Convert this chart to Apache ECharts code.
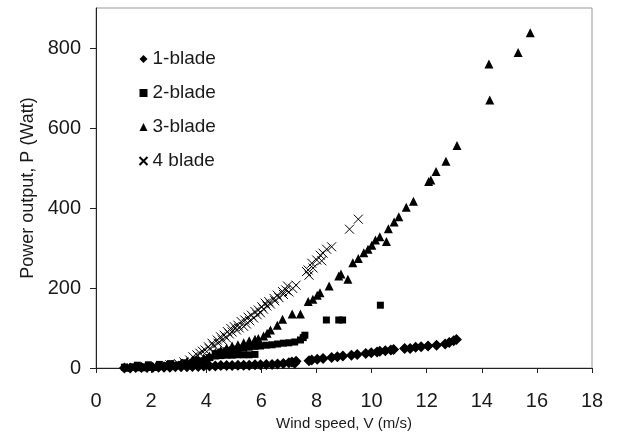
<!DOCTYPE html>
<html>
<head>
<meta charset="utf-8">
<script src="https://cdn.jsdelivr.net/npm/echarts@6/dist/echarts.min.js"></script>
<style>
  html, body { margin: 0; padding: 0; background: #fff; }
  #main { width: 632px; height: 436px; }
</style>
</head>
<body>
<div id="main"></div>
<script>
// wind speed (m/s), power (W) pairs
var blade1 = [
  [1.03,0],[1.24,0],[1.44,1],[1.65,1],[1.85,1],[2.06,1],[2.27,2],[2.47,2],[2.68,2],[2.88,3],[3.09,3],[3.3,3],
  [3.5,4],[3.71,4],[3.91,5],[4.12,5],[4.33,5],[4.53,6],[4.74,6],[4.94,6],[5.15,7],[5.36,7],[5.56,7],[5.77,8],
  [5.97,8],[6.18,9],[6.39,9],[6.59,10],[6.8,11],[7.0,13],[7.11,15],[7.21,12],[7.26,17],[7.73,18],[7.83,20],
  [8.03,22],[8.24,24],[8.55,26],[8.76,28],[8.96,30],[9.27,32],[9.48,34],[9.79,36],[9.99,38],[10.2,40],[10.3,42],
  [10.5,43],[10.7,45],[10.8,46],[11.2,49],[11.4,49],[11.6,52],[11.8,53],[12.05,55],[12.36,57],[12.67,60],
  [12.82,64],[12.98,68],[13.08,71]
];
var blade2 = [
  [1.03,2],[1.34,3],[1.65,3],[1.96,4],[2.27,5],[2.58,6],[2.88,7],[3.09,9],[3.3,10],[3.5,12],[3.71,15],[3.91,18],
  [1.5,7],[1.9,8],[2.3,9],[2.7,11],[3.2,13],[3.6,20],
  [4.02,22],[4.12,26],[4.33,30],[4.53,31],[4.74,32],[4.94,32],[5.15,33],[5.36,33],[5.56,33],[5.77,34],
  [4.33,36],[4.53,40],[4.74,43],[4.94,45],[5.15,48],[5.36,50],[5.56,52],[5.77,54],[5.97,55],[6.18,57],[6.39,58],
  [6.59,60],[6.8,62],[7.0,63],[7.21,65],[7.42,70],[7.52,76],[7.58,82],[8.36,120],[8.81,120],[8.95,120],[10.32,157]
];
var blade3 = [
  [1.13,2],[1.65,3],[2.06,4],[2.47,6],[2.78,9],[3.09,12],[3.3,16],[3.5,19],[3.71,22],[3.91,25],[4.12,30],[4.33,38],
  [4.53,44],[4.74,50],[4.94,55],[5.15,58],[5.36,63],[5.56,68],[5.77,72],[5.89,74],[6.08,80],[6.21,87],[6.33,95],
  [6.58,107],[6.77,122],[7.12,135],[7.42,135],[7.7,166],[7.87,172],[8.03,182],[8.13,188],[8.46,205],
  [8.81,230],[8.89,235],[9.14,222],[9.32,263],[9.52,274],[9.72,288],[9.87,297],[10.01,307],[10.14,320],
  [10.3,328],[10.54,316],[10.61,348],[10.82,365],[10.99,378],[11.26,402],[11.52,417],[12.07,466],[12.15,470],
  [12.34,491],[12.7,517],[13.1,556],[14.26,760],[14.29,670],[15.32,789],[15.76,838]
];
var blade4 = [
  [2.68,8],[2.99,11],[3.19,15],[3.4,20],[3.52,28],[3.66,33],[3.77,37],[3.86,42],[3.96,45],[4.08,53],[4.12,48],
  [4.21,62],[4.27,55],[4.4,70],[4.43,62],[4.52,78],[4.58,70],[4.65,82],[4.74,75],[4.77,91],[4.84,85],[4.89,99],
  [4.94,90],[5.02,103],[5.1,95],[5.15,107],[5.2,100],[5.27,116],[5.36,104],[5.4,120],[5.46,110],[5.52,127],
  [5.58,118],[5.64,132],[5.72,125],[5.77,141],[5.85,133],[5.89,145],[5.97,138],[6.02,153],[6.08,147],[6.14,162],
  [6.2,155],[6.27,166],[6.33,160],[6.46,174],[6.49,168],[6.58,182],[6.64,176],[6.77,191],[6.8,184],[6.89,195],
  [6.95,205],[7.0,190],[7.14,199],[7.26,207],[7.64,241],[7.7,245],[7.73,232],[7.83,262],[7.88,250],[8.01,270],
  [8.14,282],[8.19,268],[8.24,287],[8.37,297],[8.55,303],[9.2,347],[9.52,372]
];
var seriesNames = ['1-blade', '2-blade', '3-blade', '4 blade'];
var xTicks = { min: 0, max: 18, interval: 2 };
var yTicks = { min: 0, max: 900, interval: 200 };

var txt = '#1a1a1a';
var font = 'Arial, "Liberation Sans", sans-serif';
var crossPath = 'path://M0,0L10,10M10,0L0,10';

var chart = echarts.init(document.getElementById('main'));
chart.setOption({
  animation: false,
  grid: { left: 96, right: 40, top: 8, bottom: 68, show: true, borderColor: '#999', borderWidth: 1 },
  legend: {
    orient: 'vertical', left: 132, top: 44,
    itemWidth: 8, itemHeight: 8, itemGap: 14,
    textStyle: { color: txt, fontSize: 19, fontFamily: font, lineHeight: 20 },
    data: seriesNames
  },
  xAxis: {
    type: 'value', min: xTicks.min, max: xTicks.max, interval: xTicks.interval,
    name: 'Wind speed, V (m/s)', nameLocation: 'middle', nameGap: 48,
    nameTextStyle: { color: txt, fontSize: 15, fontFamily: font },
    splitLine: { show: false },
    axisLine: { lineStyle: { color: '#222', width: 1 } },
    axisTick: { inside: false, length: 5, lineStyle: { color: '#222' } },
    axisLabel: { color: txt, fontSize: 20, fontFamily: font, margin: 23 }
  },
  yAxis: {
    type: 'value', min: yTicks.min, max: yTicks.max, interval: yTicks.interval,
    name: 'Power output, P (Watt)', nameLocation: 'middle', nameGap: 58,
    nameTextStyle: { color: txt, fontSize: 18, fontFamily: font },
    splitLine: { show: false },
    axisLine: { show: true, lineStyle: { color: '#222', width: 1 } },
    axisTick: { show: true, length: 6, lineStyle: { color: '#222' } },
    axisLabel: { color: txt, fontSize: 20, fontFamily: font, margin: 15, showMaxLabel: false }
  },
  series: [
    { name: seriesNames[0], type: 'scatter', data: blade1, symbol: 'diamond', symbolSize: 11,
      itemStyle: { color: '#000', opacity: 1 } },
    { name: seriesNames[1], type: 'scatter', data: blade2, symbol: 'rect', symbolSize: 7,
      itemStyle: { color: '#000', opacity: 1 } },
    { name: seriesNames[2], type: 'scatter', data: blade3, symbol: 'triangle', symbolSize: 9,
      itemStyle: { color: '#000', opacity: 1 } },
    { name: seriesNames[3], type: 'scatter', data: blade4, symbol: crossPath, symbolSize: 9,
      itemStyle: { color: 'none', borderColor: '#000', borderWidth: 1, opacity: 1 } }
  ]
});
</script>
</body>
</html>
